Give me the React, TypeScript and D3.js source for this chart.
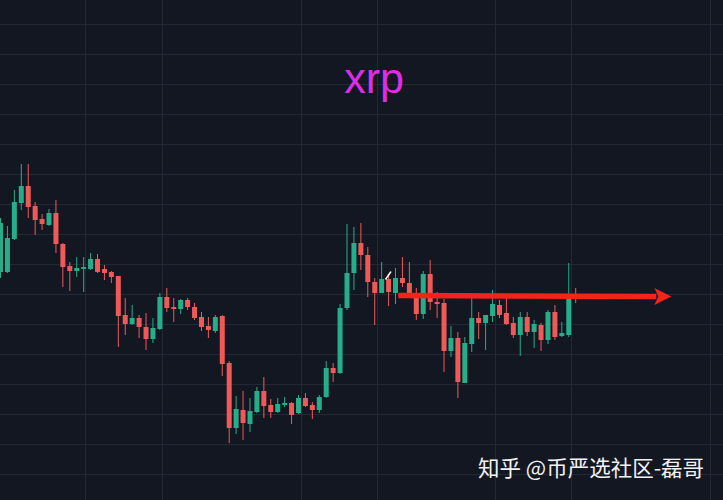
import React from 'react';
import * as d3 from 'd3';

// OHLC, left to right (price in USD)
const opens = [
  0.552, 0.552, 0.585, 0.621, 0.638, 0.618, 0.605, 0.599, 0.611, 0.58,
  0.558, 0.553, 0.555, 0.555, 0.565, 0.555, 0.552, 0.548, 0.509, 0.5,
  0.506, 0.497, 0.485, 0.495, 0.527, 0.517, 0.515, 0.524, 0.517, 0.507,
  0.498, 0.493, 0.508, 0.461, 0.396, 0.414, 0.4, 0.412, 0.433, 0.419,
  0.412, 0.419, 0.421, 0.411, 0.426, 0.419, 0.414, 0.427, 0.456, 0.451,
  0.516, 0.551, 0.581, 0.569, 0.542, 0.531, 0.545, 0.531, 0.546, 0.541,
  0.531, 0.51, 0.55, 0.522, 0.521, 0.473, 0.486, 0.441, 0.48, 0.506,
  0.501, 0.508, 0.519, 0.511, 0.501, 0.489, 0.507, 0.492, 0.499, 0.484,
  0.512, 0.488, 0.489, 0.53,
];
const highs = [
  0.606, 0.598, 0.634, 0.66, 0.66, 0.622, 0.61, 0.615, 0.624, 0.581,
  0.562, 0.567, 0.567, 0.571, 0.57, 0.559, 0.553, 0.548, 0.526, 0.519,
  0.509, 0.511, 0.506, 0.531, 0.536, 0.526, 0.525, 0.526, 0.521, 0.512,
  0.507, 0.509, 0.509, 0.463, 0.428, 0.433, 0.426, 0.437, 0.447, 0.425,
  0.426, 0.427, 0.422, 0.429, 0.431, 0.422, 0.429, 0.463, 0.461, 0.52,
  0.6, 0.597, 0.601, 0.577, 0.546, 0.562, 0.549, 0.556, 0.567, 0.562,
  0.536, 0.553, 0.564, 0.532, 0.525, 0.498, 0.492, 0.487, 0.527, 0.512,
  0.509, 0.534, 0.524, 0.526, 0.507, 0.512, 0.512, 0.504, 0.501, 0.514,
  0.519, 0.502, 0.561, 0.536,
];
const lows = [
  0.546, 0.551, 0.584, 0.614, 0.606, 0.589, 0.594, 0.598, 0.571, 0.537,
  0.533, 0.547, 0.532, 0.554, 0.551, 0.544, 0.541, 0.477, 0.489, 0.499,
  0.486, 0.474, 0.481, 0.494, 0.512, 0.502, 0.51, 0.514, 0.504, 0.493,
  0.486, 0.491, 0.448, 0.381, 0.39, 0.384, 0.392, 0.411, 0.406, 0.406,
  0.411, 0.417, 0.4, 0.41, 0.417, 0.405, 0.411, 0.426, 0.442, 0.45,
  0.514, 0.534, 0.554, 0.527, 0.499, 0.531, 0.518, 0.52, 0.537, 0.529,
  0.504, 0.505, 0.514, 0.506, 0.452, 0.467, 0.426, 0.441, 0.472, 0.485,
  0.474, 0.502, 0.506, 0.499, 0.486, 0.468, 0.488, 0.476, 0.473, 0.48,
  0.484, 0.487, 0.487, 0.521,
];
const closes = [
  0.601, 0.586, 0.622, 0.638, 0.617, 0.604, 0.6, 0.611, 0.58, 0.557,
  0.553, 0.556, 0.557, 0.565, 0.552, 0.551, 0.547, 0.508, 0.5, 0.506,
  0.497, 0.485, 0.496, 0.527, 0.516, 0.515, 0.524, 0.517, 0.506, 0.497,
  0.494, 0.507, 0.46, 0.396, 0.415, 0.401, 0.413, 0.433, 0.418, 0.412,
  0.42, 0.421, 0.409, 0.426, 0.418, 0.414, 0.427, 0.456, 0.451, 0.516,
  0.551, 0.581, 0.569, 0.542, 0.531, 0.545, 0.532, 0.546, 0.541, 0.531,
  0.51, 0.55, 0.522, 0.52, 0.473, 0.486, 0.442, 0.481, 0.506, 0.501,
  0.509, 0.52, 0.509, 0.5, 0.489, 0.507, 0.492, 0.5, 0.484, 0.512,
  0.487, 0.491, 0.526, 0.527,
];

// time grid lines (in bar index units)
const timeGrid = [12.2, 23.3, 43.4, 54.3, 71.4, 82.3, 102.4];

// hand-drawn arrow and small white mark
const arrowFrom = { i: 57.4, p: 0.5285 };
const arrowTo = { i: 96.8, p: 0.5275 };
const markFrom = { i: 55.6, p: 0.545 };
const markTo = { i: 56.3, p: 0.552 };

const title = 'xrp';
const watermark = '知乎 @币严选社区-磊哥';

const W = 723;
const H = 500;
const UP = '#26ae8a';
const DOWN = '#ef5a58';

const App: React.FC = () => {
  const x = d3.scaleLinear().domain([0, 83]).range([0.5, 575.7]);
  const y = d3.scaleLinear().domain([0.35, 0.8]).range([474, 24]);
  const bodyW = 5;

  const priceGrid = d3.range(0.29, 0.86, 0.03);

  const [ax1, ay1] = [x(arrowFrom.i), y(arrowFrom.p)];
  const [ax2, ay2] = [x(arrowTo.i), y(arrowTo.p)];
  const headLen = 17;
  const headHalf = 8.5;
  const ang = Math.atan2(ay2 - ay1, ax2 - ax1);
  const bx = ax2 - headLen * Math.cos(ang);
  const by = ay2 - headLen * Math.sin(ang);
  const head = [
    [ax2, ay2],
    [bx - headHalf * Math.sin(ang), by + headHalf * Math.cos(ang)],
    [bx + 4 * Math.cos(ang), by + 4 * Math.sin(ang)],
    [bx + headHalf * Math.sin(ang), by - headHalf * Math.cos(ang)],
  ];

  return (
    <svg
      width={W}
      height={H}
      style={{ position: 'fixed', left: 0, top: 0, display: 'block' }}
    >
      <rect width={W} height={H} fill="#131722" />
      <g stroke="#232837" strokeWidth={1}>
        {priceGrid.map((p, k) => (
          <line key={'h' + k} x1={0} x2={W} y1={Math.round(y(p)) + 0.5} y2={Math.round(y(p)) + 0.5} />
        ))}
        {timeGrid.map((t, k) => (
          <line key={'v' + k} x1={Math.round(x(t)) + 0.5} x2={Math.round(x(t)) + 0.5} y1={0} y2={H} />
        ))}
      </g>

      <text
        x={374}
        y={93}
        textAnchor="middle"
        fill="#dc2ee6"
        fontFamily="'Liberation Sans', Arial, sans-serif"
        fontSize={43}
      >
        {title}
      </text>

      <g>
        {opens.map((o, i) => {
          const c = closes[i];
          const col = c >= o ? UP : DOWN;
          const cx = x(i);
          const top = y(Math.max(o, c));
          const bot = y(Math.min(o, c));
          return (
            <g key={i}>
              <line
                x1={cx}
                x2={cx}
                y1={y(highs[i])}
                y2={y(lows[i])}
                stroke={col}
                strokeWidth={1}
              />
              <rect
                x={cx - bodyW / 2}
                y={top}
                width={bodyW}
                height={Math.max(1.5, bot - top)}
                fill={col}
              />
            </g>
          );
        })}
      </g>

      <line
        x1={x(markFrom.i)}
        y1={y(markFrom.p)}
        x2={x(markTo.i)}
        y2={y(markTo.p)}
        stroke="#ffffff"
        strokeWidth={1.5}
        strokeLinecap="round"
      />

      <line x1={ax1} y1={ay1} x2={bx + 2} y2={by} stroke="#f2231b" strokeWidth={5.5} />
      <path d={(d3.line()(head as [number, number][]) || '') + 'Z'} fill="#f2231b" />

      <text
        x={478}
        y={476}
        fill="#f2f2f2"
        fontFamily="'Noto Sans CJK SC', sans-serif"
        fontSize={21.5}
      >
        {watermark}
      </text>
    </svg>
  );
};

export default App;
